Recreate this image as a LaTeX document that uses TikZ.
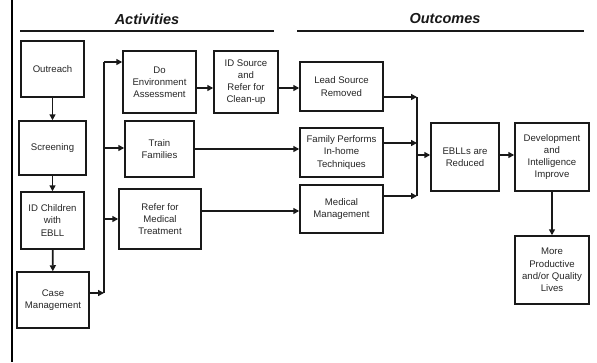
\documentclass[tikz,border=0pt]{standalone}
\usepackage{fontspec}
\setmainfont{Liberation Sans}
\usetikzlibrary{arrows.meta,shadows}
\begin{document}
\begin{tikzpicture}[x=1pt,y=-1pt,
  box/.style={draw=black!90,line width=1.5pt,fill=white,
    text=black!85,align=center,inner sep=1pt,
    font=\fontsize{9.6}{12.2}\selectfont,
    drop shadow={shadow xshift=1.4pt,shadow yshift=-1.4pt,fill=black!30,opacity=1}},
  link/.style={line width=1.8pt,draw=black!90},
  arr/.style={link,-{Triangle[length=6pt,width=6pt]}},
  header/.style={font=\fontsize{14.5}{16}\selectfont\bfseries\itshape,text=black!90},
  rule/.style={line width=1.4pt,draw=black!90}]
\useasboundingbox[fill=white] (0,0) rectangle (597,362);

% left margin bar
\draw[line width=2.6pt] (12,0) -- (12,362);

% column headings
\node[header] (hact) at (147,19) {Activities};
\node[header] (hout) at (445,19) {Outcomes};
\coordinate (ra1) at (20,31);  \coordinate (ra2) at (274,31);
\coordinate (ro1) at (297,31); \coordinate (ro2) at (584,31);
\draw[rule] (ra1) -- (ra2);
\draw[rule] (ro1) -- (ro2);

% activity boxes
\node[box,minimum width=63pt,minimum height=56pt] (outreach) at (52.5,69) {Outreach};
\node[box,minimum width=67pt,minimum height=54pt] (screen) at (52.5,148) {Screening};
\node[box,minimum width=63pt,minimum height=57pt] (idchild) at (52.5,220.5) {ID Children\\with\\EBLL};
\node[box,minimum width=72pt,minimum height=56pt] (case) at (53,300) {Case\\Management};
\node[box,minimum width=73pt,minimum height=62pt] (doenv) at (159.5,82) {Do\\Environment\\Assessment};
\node[box,minimum width=64pt,minimum height=62pt] (idsrc) at (246,82) {ID Source\\and\\Refer for\\Clean-up};
\node[box,minimum width=69pt,minimum height=56pt] (train) at (159.5,149) {Train\\Families};
\node[box,minimum width=82pt,minimum height=60pt] (refmed) at (160,219) {Refer for\\Medical\\Treatment};

% outcome boxes
\node[box,minimum width=83pt,minimum height=49pt] (lead) at (341.5,86.5) {Lead Source\\Removed};
\node[box,minimum width=83pt,minimum height=49pt] (family) at (341.5,152.5) {Family Performs\\In-home\\Techniques};
\node[box,minimum width=83pt,minimum height=48pt] (medmgmt) at (341.5,209) {Medical\\Management};
\node[box,minimum width=68pt,minimum height=68pt] (ebll) at (465,157) {EBLLs are\\Reduced};
\node[box,minimum width=74pt,minimum height=68pt] (dev) at (552,157) {Development\\and\\Intelligence\\Improve};
\node[box,minimum width=74pt,minimum height=68pt] (more) at (552,270) {More\\Productive\\and/or Quality\\Lives};

% left column chain
\draw[arr] (outreach) -- (screen);
\draw[arr] (screen) -- (idchild);
\draw[arr] (idchild) -- (case);

% case management fans out to the three activities
\coordinate (jl) at (104,293);
\coordinate (jltop) at (104,62);
\draw[arr] (case.east |- jl) -- (jl);
\draw[link] (jl) -- (jltop);
\draw[arr] (jltop) -- (doenv.west |- jltop);
\draw[arr] (jl |- 0,148) -- (train.west |- 0,148);
\draw[arr] (jl |- 0,219) -- (refmed.west |- 0,219);

% activities to outcomes
\draw[arr] (doenv.east |- 0,88) -- (idsrc.west |- 0,88);
\draw[arr] (idsrc.east |- 0,88) -- (lead.west |- 0,88);
\draw[arr] (train.east |- 0,149) -- (family.west |- 0,149);
\draw[arr] (refmed.east |- 0,211) -- (medmgmt.west |- 0,211);

% outcomes merge into reduced EBLLs
\coordinate (jr) at (417,155);
\coordinate (jrtop) at (417,97);
\coordinate (jrbot) at (417,196);
\draw[link] (jrtop) -- (jrbot);
\draw[arr] (lead.east |- jrtop) -- (jrtop);
\draw[arr] (family.east |- 0,143) -- (jr |- 0,143);
\draw[arr] (medmgmt.east |- jrbot) -- (jrbot);
\draw[arr] (jr) -- (ebll.west |- jr);
\draw[arr] (ebll.east |- 0,155) -- (dev.west |- 0,155);
\draw[arr] (dev) -- (more);
\end{tikzpicture}
\end{document}
